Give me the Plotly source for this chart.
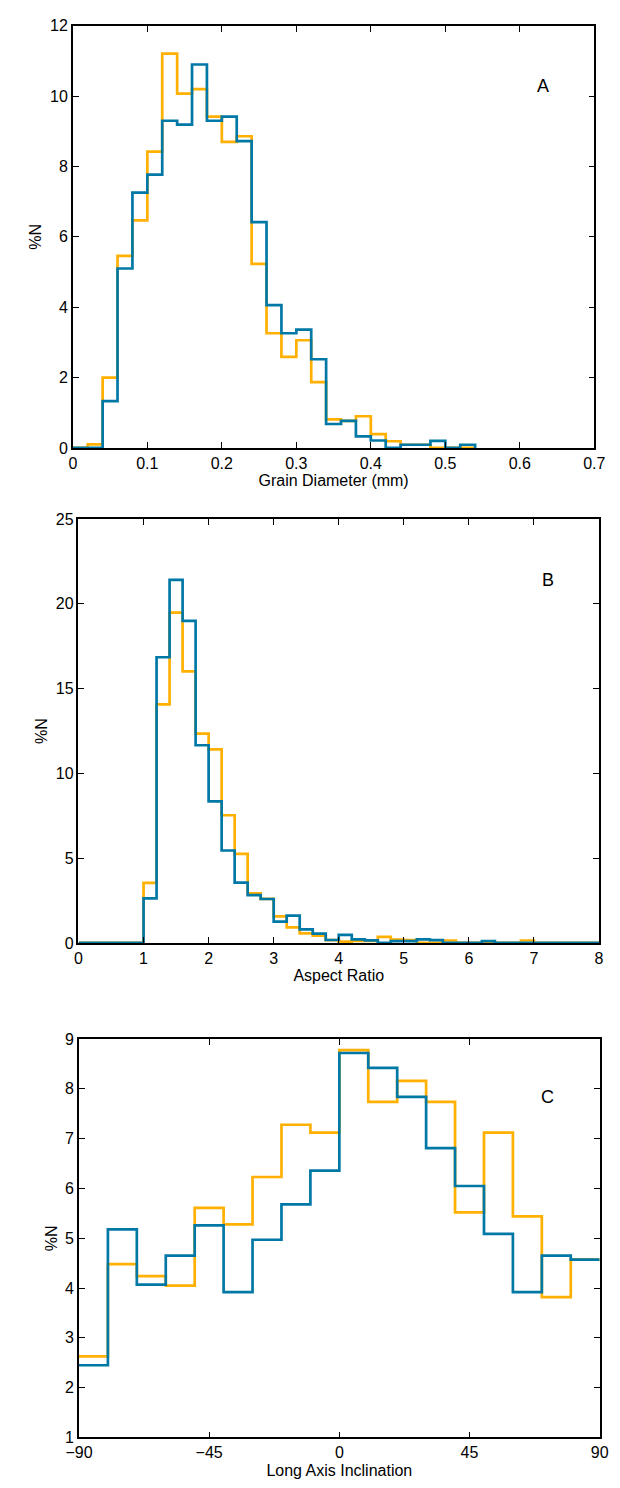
import plotly.graph_objects as go

# ---------------- Data ----------------
# Panel A: Grain diameter (mm), bins of 0.02 from 0 to 0.54
a_bin_start, a_bin_width = 0.0, 0.02
a_orange = [0, 0.1, 2.0, 5.46, 6.47, 8.42, 11.21, 10.07, 10.2, 9.42, 8.70, 8.86, 5.23, 3.26,
            2.59, 3.06, 1.87, 0.81, 0.77, 0.90, 0.39, 0.19, 0.09, 0.09, 0, 0, 0]
a_blue = [0, 0, 1.33, 5.10, 7.26, 7.77, 9.30, 9.19, 10.9, 9.30, 9.42, 8.72, 6.42, 4.06,
          3.26, 3.36, 2.52, 0.68, 0.77, 0.33, 0.21, 0, 0.09, 0.09, 0.2, 0, 0.09]

# Panel B: Aspect ratio, bins of 0.2 from 0 to 8
b_bin_start, b_bin_width = 0.0, 0.2
b_orange = [0, 0, 0, 0, 0, 3.54, 14.07, 19.48, 16.02, 12.34, 11.41, 7.53, 5.25, 2.92, 2.6,
            1.56, 0.91, 0.56, 0.42, 0.16, 0.08, 0.12, 0.12, 0.35, 0.19, 0.16, 0, 0, 0.14, 0,
            0, 0, 0, 0, 0.14, 0, 0, 0, 0, 0]
b_blue = [0, 0, 0, 0, 0, 2.63, 16.85, 21.42, 18.99, 11.66, 8.35, 5.45, 3.56, 2.82, 2.59,
          1.26, 1.61, 0.8, 0.55, 0.17, 0.47, 0.21, 0.15, 0, 0.1, 0.1, 0.21, 0.16, 0, 0,
          0, 0.1, 0, 0, 0, 0, 0, 0, 0, 0]

# Panel C: Long axis inclination (deg), bins of 10 from -90 to 90
c_bin_start, c_bin_width = -90, 10
c_orange = [2.63, 4.48, 4.24, 4.05, 5.61, 5.28, 6.23, 7.28, 7.12,
            8.78, 7.74, 8.16, 7.74, 5.52, 7.12, 5.44, 3.82, 4.57]
c_blue = [2.45, 5.18, 4.07, 4.65, 5.26, 3.92, 4.97, 5.68, 6.36,
          8.72, 8.42, 7.84, 6.81, 6.05, 5.09, 3.92, 4.65, 4.57]

a_xticks = [0, 0.1, 0.2, 0.3, 0.4, 0.5, 0.6, 0.7]
a_yticks = [0, 2, 4, 6, 8, 10, 12]
b_xticks = [0, 1, 2, 3, 4, 5, 6, 7, 8]
b_yticks = [0, 5, 10, 15, 20, 25]
c_xticks = [-90, -45, 0, 45, 90]
c_yticks = [1, 2, 3, 4, 5, 6, 7, 8, 9]

ORANGE = "#FFB000"
BLUE = "#0078A6"
FONT = "Liberation Sans, Arial, sans-serif"


def steps(start, width, vals, drop_to_zero=True):
    n = len(vals)
    edges = [round(start + i * width, 6) for i in range(n + 1)]
    ys = list(vals) + ([0] if drop_to_zero else [vals[-1]])
    return edges, ys


fig = go.Figure()

panels = [
    ("x", "y", a_bin_start, a_bin_width, a_orange, a_blue, True),
    ("x2", "y2", b_bin_start, b_bin_width, b_orange, b_blue, True),
    ("x3", "y3", c_bin_start, c_bin_width, c_orange, c_blue, False),
]
for xa, ya, s, w, o, b, drop in panels:
    for vals, col in ((o, ORANGE), (b, BLUE)):
        ex, ey = steps(s, w, vals, drop)
        fig.add_trace(go.Scatter(x=ex, y=ey, mode="lines", line=dict(color=col, width=2.7, shape="hv"),
                                 xaxis=xa, yaxis=ya, showlegend=False, hoverinfo="skip"))

H = 1488.0
W = 620.0

def ydom(top, bottom):
    return [1 - bottom / H, 1 - top / H]

def xdom(left, right):
    return [left / W, right / W]

axis_common = dict(showline=True, linecolor="black", linewidth=1.5, mirror="ticks", ticks="inside",
                   ticklen=6, tickwidth=1.2, tickcolor="black", showgrid=False, zeroline=False,
                   tickfont=dict(family=FONT, size=16, color="black"),
                   title_font=dict(family=FONT, size=16, color="black"))

fig.update_layout(
    width=620, height=1488, margin=dict(l=0, r=0, t=0, b=0),
    paper_bgcolor="white", plot_bgcolor="white", showlegend=False,
    font=dict(family=FONT, size=16, color="black"),
    xaxis=dict(domain=xdom(61.3, 604.7), range=[0, 0.7], tickvals=a_xticks,
               ticktext=[f"{v:g}" for v in a_xticks], anchor="y",
               title=dict(text="Grain Diameter (mm)", standoff=4), **axis_common),
    yaxis=dict(domain=ydom(18, 445), range=[0, 12], tickvals=a_yticks, anchor="x",
               title=dict(text="%N", standoff=4), **axis_common),
    xaxis2=dict(domain=xdom(67.2, 609.6), range=[0, 8], tickvals=b_xticks, anchor="y2",
                title=dict(text="Aspect Ratio", standoff=4), **axis_common),
    yaxis2=dict(domain=ydom(517, 945.7), range=[0, 25], tickvals=b_yticks, anchor="x2",
                title=dict(text="%N", standoff=4), **axis_common),
    xaxis3=dict(domain=xdom(67.7, 610.3), range=[-90, 90], tickvals=c_xticks, anchor="y3",
                title=dict(text="Long Axis Inclination", standoff=4), **axis_common),
    yaxis3=dict(domain=ydom(1043, 1446), range=[1, 9], tickvals=c_yticks, anchor="x3",
                title=dict(text="%N", standoff=4), **axis_common),
)

for lbl, xr, yr in (("A", "x domain", "y domain"), ("B", "x2 domain", "y2 domain"), ("C", "x3 domain", "y3 domain")):
    fig.add_annotation(text=lbl, xref=xr, yref=yr, x=0.917, y=0.885, showarrow=False,
                       font=dict(family=FONT, size=18, color="black"))

fig.write_html(
    "out.html",
    config={"displayModeBar": False},
    post_script="document.body.style.margin='0';document.body.style.overflow='hidden';",
)
